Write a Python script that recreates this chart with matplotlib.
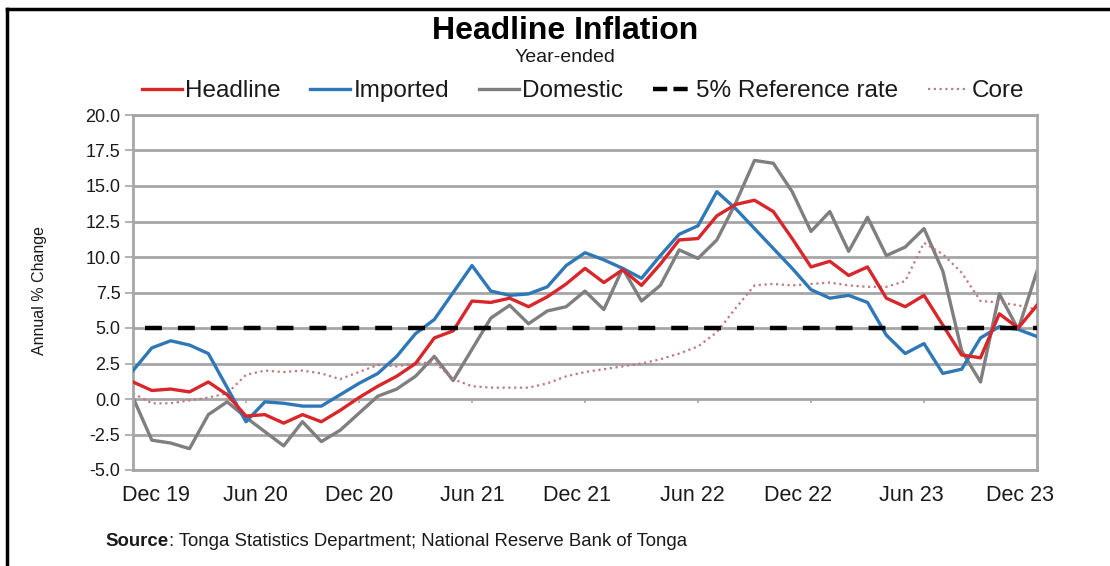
import matplotlib
matplotlib.use("Agg")
import matplotlib.pyplot as plt
from matplotlib.lines import Line2D
import numpy as np

plt.rcParams['font.family'] = ['Liberation Sans', 'DejaVu Sans']

# Monthly year-ended inflation, Dec 2019 - Dec 2023 (per cent)
headline = [1.2, 0.6, 0.7, 0.5, 1.2, 0.3, -1.2, -1.1, -1.7, -1.1,
            -1.6, -0.8, 0.1, 0.9, 1.6, 2.5, 4.3, 4.8, 6.9, 6.8,
            7.1, 6.5, 7.2, 8.1, 9.2, 8.2, 9.1, 8.0, 9.5, 11.2,
            11.3, 12.9, 13.7, 14.0, 13.2, 11.3, 9.3, 9.7, 8.7, 9.3,
            7.1, 6.5, 7.3, 5.2, 3.1, 2.9, 6.0, 5.0, 6.6]

imported = [2.0, 3.6, 4.1, 3.8, 3.2, 0.8, -1.6, -0.2, -0.3, -0.5,
            -0.5, 0.3, 1.1, 1.8, 3.0, 4.6, 5.6, 7.5, 9.4, 7.6,
            7.3, 7.4, 7.9, 9.4, 10.3, 9.8, 9.2, 8.5, 10.1, 11.6,
            12.2, 14.6, 13.4, 12.0, 10.6, 9.2, 7.7, 7.1, 7.3, 6.8,
            4.5, 3.2, 3.9, 1.8, 2.1, 4.3, 5.1, 4.9, 4.4]

domestic = [0.1, -2.9, -3.1, -3.5, -1.1, -0.2, -1.3, -2.3, -3.3, -1.6,
            -3.0, -2.2, -1.0, 0.2, 0.7, 1.6, 3.0, 1.3, 3.5, 5.7,
            6.6, 5.3, 6.2, 6.5, 7.6, 6.3, 9.2, 6.9, 8.0, 10.5,
            9.9, 11.2, 13.8, 16.8, 16.6, 14.6, 11.8, 13.2, 10.4, 12.8,
            10.1, 10.7, 12.0, 9.0, 3.4, 1.2, 7.4, 4.9, 9.0]

core = [0.4, -0.3, -0.3, -0.1, 0.1, 0.4, 1.7, 2.0, 1.9, 2.0,
        1.8, 1.4, 1.9, 2.4, 2.3, 2.5, 2.6, 1.4, 0.9, 0.8,
        0.8, 0.8, 1.1, 1.6, 1.9, 2.1, 2.3, 2.5, 2.8, 3.2,
        3.7, 4.7, 6.4, 8.0, 8.1, 8.0, 8.1, 8.2, 8.0, 7.9,
        7.9, 8.3, 11.0, 10.2, 8.9, 6.9, 6.8, 6.6, 6.3]

reference_rate = 5.0

tick_labels = ["Dec 19", "Jun 20", "Dec 20", "Jun 21", "Dec 21",
               "Jun 22", "Dec 22", "Jun 23", "Dec 23"]
y_ticks = [-5.0, -2.5, 0.0, 2.5, 5.0, 7.5, 10.0, 12.5, 15.0, 17.5, 20.0]

RED = "#d8262b"
BLUE = "#2f78b8"
GREY = "#7f7f7f"
CORE = "#c07a80"
GRID = "#a6a6a6"
TEXT = "#1a1a1a"

fig = plt.figure(figsize=(11.10, 5.66), dpi=100)
ax = fig.add_axes([133 / 1110, 1 - 470 / 566, (1037 - 133) / 1110, (470 - 115) / 566])

x = np.arange(len(headline))

ax.set_ylim(-5, 20)
ax.set_xlim(0, len(headline) - 1)
ax.set_yticks(y_ticks)
ax.set_yticklabels([f"{v:.1f}" for v in y_ticks])
ax.yaxis.grid(True, color=GRID, lw=2.0)
ax.set_axisbelow(True)

for side in ax.spines.values():
    side.set_color(GRID)
    side.set_linewidth(2.0)

ax.tick_params(axis='y', length=6, width=1.2, color=GRID, labelsize=13,
               labelcolor=TEXT, pad=3)

# half-yearly category marks on the zero line; labels are laid out
# slightly inset so the end labels stay inside the chart frame
tick_pos = list(range(0, len(headline), 6))
label_pos = [1.2, 6.5, 12.0, 18.0, 23.6, 29.7, 35.3, 41.3, 47.1]
ax.set_xticks(label_pos)
ax.set_xticklabels(tick_labels)
ax.tick_params(axis='x', length=0, labelsize=15.5, labelcolor=TEXT, pad=11)
ax.vlines(tick_pos[1:-1], -0.3, 0, color=GRID, lw=1.2, zorder=1)

l_head, = ax.plot(x, headline, color=RED, lw=2.4, zorder=4)
l_imp, = ax.plot(x, imported, color=BLUE, lw=2.4, zorder=3)
l_dom, = ax.plot(x, domestic, color=GREY, lw=2.4, zorder=2)
ax.axhline(reference_rate, color="black", lw=3.2,
           ls=(4.7, (3.8, 3.6)), zorder=5)
l_core, = ax.plot(x, core, color=CORE, lw=1.6, ls=(0, (1, 1.6)), zorder=2)

# legend key for the reference line starts on a dash
ref_key = Line2D([], [], color="black", lw=3.2, ls=(0, (3.2, 1.4)))

fig.legend([l_head, l_imp, l_dom, ref_key, l_core],
           ["Headline", "Imported", "Domestic", "5% Reference rate", "Core"],
           loc="center", bbox_to_anchor=(0.525, 0.839), ncol=5,
           frameon=False, fontsize=17.5, handlelength=1.65,
           handletextpad=0.15, columnspacing=1.2, labelcolor=TEXT)

fig.text(0.509, 0.946, "Headline Inflation", ha="center", va="center",
         fontsize=23, fontweight="bold", color="black")
fig.text(0.509, 0.898, "Year-ended", ha="center", va="center",
         fontsize=14, color=TEXT)
fig.text(0.036, 0.487, "Annual % Change", rotation=90, ha="center",
         va="center", fontsize=11.5, color=TEXT)

src = fig.text(0.095, 0.044, "Source", ha="left", va="center",
               fontsize=13.4, fontweight="bold", color=TEXT)
fig.canvas.draw()
bb = src.get_window_extent().transformed(fig.transFigure.inverted())
fig.text(bb.x1, 0.044, ": Tonga Statistics Department; National Reserve Bank of Tonga",
         ha="left", va="center", fontsize=13.4, color=TEXT)

# outer frame (left and top edges)
fig.add_artist(Line2D([0.006, 0.006], [0.0, 0.984], transform=fig.transFigure,
                      color="black", lw=2.5))
fig.add_artist(Line2D([0.006, 1.0], [0.984, 0.984], transform=fig.transFigure,
                      color="black", lw=2.5))

fig.savefig("out.png", dpi=100)
